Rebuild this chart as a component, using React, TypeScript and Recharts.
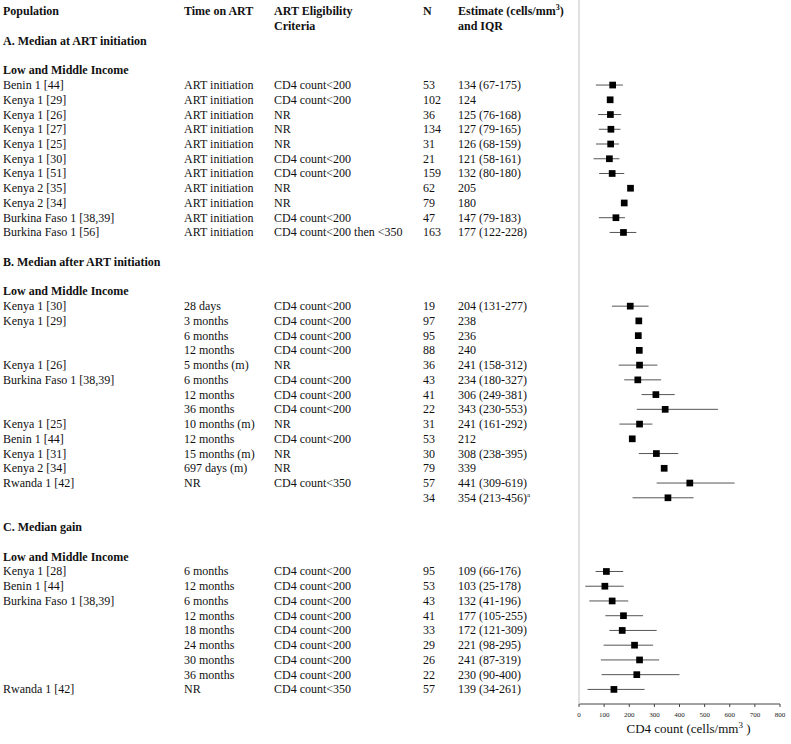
import React from 'react';
import { ComposedChart, Scatter, XAxis, YAxis, ZAxis, ErrorBar } from 'recharts';

const FONT = '"Liberation Serif", "Times New Roman", Times, serif';

// A. Median at ART initiation
const A_POP = ['Benin 1 [44]', 'Kenya 1 [29]', 'Kenya 1 [26]', 'Kenya 1 [27]', 'Kenya 1 [25]', 'Kenya 1 [30]', 'Kenya 1 [51]', 'Kenya 2 [35]', 'Kenya 2 [34]', 'Burkina Faso 1 [38,39]', 'Burkina Faso 1 [56]'];
const A_TIME = ['ART initiation', 'ART initiation', 'ART initiation', 'ART initiation', 'ART initiation', 'ART initiation', 'ART initiation', 'ART initiation', 'ART initiation', 'ART initiation', 'ART initiation'];
const A_CRIT = ['CD4 count<200', 'CD4 count<200', 'NR', 'NR', 'NR', 'CD4 count<200', 'CD4 count<200', 'NR', 'NR', 'CD4 count<200', 'CD4 count<200 then <350'];
const A_N = [53, 102, 36, 134, 31, 21, 159, 62, 79, 47, 163];
const A_EST = [134, 124, 125, 127, 126, 121, 132, 205, 180, 147, 177];
const A_LOW = [67, null, 76, 79, 68, 58, 80, null, null, 79, 122];
const A_HIGH = [175, null, 168, 165, 159, 161, 180, null, null, 183, 228];

// B. Median after ART initiation
const B_POP = ['Kenya 1 [30]', 'Kenya 1 [29]', '', '', 'Kenya 1 [26]', 'Burkina Faso 1 [38,39]', '', '', 'Kenya 1 [25]', 'Benin 1 [44]', 'Kenya 1 [31]', 'Kenya 2 [34]', 'Rwanda 1 [42]', ''];
const B_TIME = ['28 days', '3 months', '6 months', '12 months', '5 months (m)', '6 months', '12 months', '36 months', '10 months (m)', '12 months', '15 months (m)', '697 days (m)', 'NR', ''];
const B_CRIT = ['CD4 count<200', 'CD4 count<200', 'CD4 count<200', 'CD4 count<200', 'NR', 'CD4 count<200', 'CD4 count<200', 'CD4 count<200', 'NR', 'CD4 count<200', 'NR', 'NR', 'CD4 count<350', ''];
const B_N = [19, 97, 95, 88, 36, 43, 41, 22, 31, 53, 30, 79, 57, 34];
const B_EST = [204, 238, 236, 240, 241, 234, 306, 343, 241, 212, 308, 339, 441, 354];
const B_LOW = [131, null, null, null, 158, 180, 249, 230, 161, null, 238, null, 309, 213];
const B_HIGH = [277, null, null, null, 312, 327, 381, 553, 292, null, 395, null, 619, 456];
const B_NOTE = ['', '', '', '', '', '', '', '', '', '', '', '', '', 'a'];

// C. Median gain
const C_POP = ['Kenya 1 [28]', 'Benin 1 [44]', 'Burkina Faso 1 [38,39]', '', '', '', '', '', 'Rwanda 1 [42]'];
const C_TIME = ['6 months', '12 months', '6 months', '12 months', '18 months', '24 months', '30 months', '36 months', 'NR'];
const C_CRIT = ['CD4 count<200', 'CD4 count<200', 'CD4 count<200', 'CD4 count<200', 'CD4 count<200', 'CD4 count<200', 'CD4 count<200', 'CD4 count<200', 'CD4 count<350'];
const C_N = [95, 53, 43, 41, 33, 29, 26, 22, 57];
const C_EST = [109, 103, 132, 177, 172, 221, 241, 230, 139];
const C_LOW = [66, 25, 41, 105, 121, 98, 87, 90, 34];
const C_HIGH = [176, 178, 196, 255, 309, 295, 319, 400, 261];

const SECTION_TITLES = ['A. Median at ART initiation', 'B. Median after ART initiation', 'C. Median gain'];
const SUBGROUP = 'Low and Middle Income';
const X_TICKS = [0, 100, 200, 300, 400, 500, 600, 700, 800];

type Row = {
  row: number;
  pop: string;
  time: string;
  crit: string;
  n: number;
  est: number;
  low: number | null;
  high: number | null;
  note: string;
  iqr?: [number, number];
};

const build = (
  start: number,
  pop: string[],
  time: string[],
  crit: string[],
  n: number[],
  est: number[],
  low: (number | null)[],
  high: (number | null)[],
  note?: string[]
): Row[] =>
  est.map((e, i) => ({
    row: start + i,
    pop: pop[i],
    time: time[i],
    crit: crit[i],
    n: n[i],
    est: e,
    low: low[i],
    high: high[i],
    note: note ? note[i] : '',
    iqr: low[i] != null && high[i] != null ? [e - (low[i] as number), (high[i] as number) - e] : undefined,
  }));

// row layout: 2 header lines, then each section = title, blank, subgroup, items, blank
const A_START = 5;
const B_START = A_START + A_EST.length + 4;
const C_START = B_START + B_EST.length + 4;

const data: Row[] = [
  ...build(A_START, A_POP, A_TIME, A_CRIT, A_N, A_EST, A_LOW, A_HIGH),
  ...build(B_START, B_POP, B_TIME, B_CRIT, B_N, B_EST, B_LOW, B_HIGH, B_NOTE),
  ...build(C_START, C_POP, C_TIME, C_CRIT, C_N, C_EST, C_LOW, C_HIGH),
];

const sectionRows = [A_START, B_START, C_START];
const byRow: Record<number, Row> = {};
data.forEach((d) => (byRow[d.row] = d));

const ticks = [0, 1, ...sectionRows.flatMap((s) => [s - 3, s - 1]), ...data.map((d) => d.row)].sort((a, b) => a - b);

const COL = { pop: 3, time: 184, crit: 274, n: 423, est: 458 };

const fmtEst = (d: Row) => (d.low != null && d.high != null ? `${d.est} (${d.low}-${d.high})` : `${d.est}`);

const RowTick = (props: any) => {
  const { y, payload } = props;
  const r = payload.value;
  const base = { fontFamily: FONT, fontSize: 12, fill: '#111' };
  const ty = y + 4;
  if (r === 0) {
    return (
      <g style={base} fontWeight="bold">
        <text x={COL.pop} y={ty}>Population</text>
        <text x={COL.time} y={ty}>Time on ART</text>
        <text x={COL.crit} y={ty}>ART Eligibility</text>
        <text x={COL.n} y={ty}>N</text>
        <text x={COL.est} y={ty}>
          Estimate (cells/mm
          <tspan dy={-5} fontSize={8}>3</tspan>
          <tspan dy={5}>)</tspan>
        </text>
      </g>
    );
  }
  if (r === 1) {
    return (
      <g style={base} fontWeight="bold">
        <text x={COL.crit} y={ty}>Criteria</text>
        <text x={COL.est} y={ty}>and IQR</text>
      </g>
    );
  }
  const si = sectionRows.indexOf(r + 3);
  if (si >= 0) {
    return (
      <text x={COL.pop} y={ty} style={base} fontWeight="bold">
        {SECTION_TITLES[si]}
      </text>
    );
  }
  if (sectionRows.indexOf(r + 1) >= 0) {
    return (
      <text x={COL.pop} y={ty} style={base} fontWeight="bold">
        {SUBGROUP}
      </text>
    );
  }
  const d = byRow[r];
  if (!d) return null;
  return (
    <g style={base}>
      <text x={COL.pop} y={ty}>{d.pop}</text>
      <text x={COL.time} y={ty}>{d.time}</text>
      <text x={COL.crit} y={ty}>{d.crit}</text>
      <text x={COL.n} y={ty}>{d.n}</text>
      <text x={COL.est} y={ty}>
        {fmtEst(d)}
        {d.note ? <tspan dy={-5} fontSize={7}>{d.note}</tspan> : null}
      </text>
    </g>
  );
};

const XTitle = (props: any) => {
  const vb = props.viewBox || {};
  const cx = vb.x + vb.width / 2 + 9;
  return (
    <text x={cx} y={vb.y + 29} textAnchor="middle" style={{ fontFamily: FONT, fontSize: 13, fill: '#111' }}>
      CD4 count (cells/mm
      <tspan dy={-5} fontSize={9}>3</tspan>
      <tspan dy={5}> )</tspan>
    </text>
  );
};

export default function App() {
  return (
    <div style={{ position: 'absolute', left: 0, top: 0, width: 791, height: 744, background: '#fff' }}>
      <ComposedChart width={791} height={744} data={data} margin={{ top: 0, right: 11, bottom: 0, left: 0 }}>
        <XAxis
          type="number"
          dataKey="est"
          domain={[0, 800]}
          ticks={X_TICKS}
          allowDataOverflow
          height={40}
          tickSize={3}
          tickMargin={5}
          interval={0}
          axisLine={{ stroke: '#444' }}
          tickLine={{ stroke: '#444' }}
          tick={{ fontSize: 7, fill: '#222', fontFamily: FONT }}
          label={<XTitle />}
        />
        <YAxis
          type="number"
          dataKey="row"
          domain={[-0.77, 46.99]}
          allowDataOverflow
          reversed
          width={579}
          ticks={ticks}
          interval={0}
          tickLine={false}
          axisLine={{ stroke: '#d6d6d6', strokeWidth: 1.5 }}
          tick={<RowTick />}
        />
        <ZAxis range={[45, 45]} />
        <Scatter data={data} dataKey="est" fill="#000" shape="square" isAnimationActive={false}>
          <ErrorBar dataKey="iqr" direction="x" width={0} stroke="#555" strokeWidth={1} />
        </Scatter>
      </ComposedChart>
    </div>
  );
}
